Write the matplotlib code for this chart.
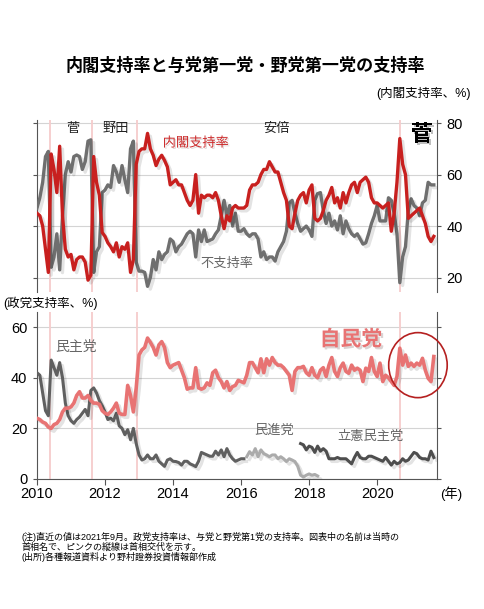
import numpy as np
import matplotlib
matplotlib.use("Agg")
import matplotlib.pyplot as plt
import matplotlib.patheffects as pe
from matplotlib.patches import Ellipse

plt.rcParams['font.family'] = ['Liberation Sans', 'Noto Sans CJK JP']

# 月次データ (2010年1月〜2021年9月)
approval = [
    45, 44, 40, 31, 22, 68, 62, 53, 71, 44, 31, 28,
    29, 23, 27, 28, 28, 26, 19, 21, 67, 57, 52, 37.5,
    36, 33.5, 32, 30, 33.5, 28, 32, 31, 33.5, 22, 27, 64,
    69, 70, 70, 76, 70, 67.5, 63.5, 66, 67.5, 65.5, 63, 56,
    57, 58, 56, 56, 53, 50, 48, 50, 60, 45, 52, 51,
    52, 52, 51, 53, 50, 44, 39, 44, 42, 47, 48, 47,
    47, 47, 48, 54, 56, 56, 57, 60, 62, 62, 65, 63,
    61, 61, 57, 53, 50, 40, 39, 45, 50, 52, 53, 49,
    54, 56, 43, 42, 43, 46, 50, 52, 55, 49, 51, 47,
    53, 49, 53, 56, 57, 53, 57, 58, 59, 57, 51, 49,
    49, 48, 47, 48, 49, 38, 45, 57, 74, 64, 60, 43,
    44, 45, 46, 47, 44, 41, 36, 34, 36,
]
disapproval = [
    47, 51, 57, 67, 69, 24, 28, 37, 23, 44, 60, 65,
    61, 67, 67.6, 67, 62, 65, 73, 73.5, 22, 30, 32, 53,
    54, 56, 55, 63.5, 61, 57, 63.5, 58, 53, 70, 73, 26,
    22.5, 22.5, 22, 16.6, 20, 27, 23, 30, 27, 29, 30, 35,
    34, 30, 32, 33, 35, 37, 38, 37, 28, 38.5, 34, 38.5,
    34, 34.5, 35, 37, 38.5, 44, 50, 44, 48, 40, 45, 38,
    38, 39, 37, 36, 37, 37, 35, 28, 30, 27, 28, 28,
    26.4, 30, 32, 34, 38, 49, 50, 45, 41, 38, 39, 40,
    38.5, 36, 50, 52.6, 53, 46, 41, 45, 40, 42, 38.5, 44,
    37, 42, 39, 37, 36, 37, 35, 33, 33.5, 37, 41, 44,
    48, 42, 42, 42, 51, 50, 45, 37, 18, 28, 32, 46,
    50.6, 48, 47, 44, 49, 50, 57, 56, 56,
]
ldp = [
    24, 23.5, 22.5, 22, 20.5, 20, 21.5, 22, 23.5, 26.5, 28, 28,
    28.5, 30, 33, 34.5, 32, 32, 33, 31, 30, 30, 29.5, 27,
    26, 25.5, 26.5, 28, 30, 26, 25.5, 25.5, 37, 33, 26.5, 36,
    49, 51, 52, 55.7, 54, 52, 49, 53, 54.3, 52, 46, 44,
    45, 45.5, 46, 43, 40, 35.5, 36, 36, 44, 36, 35.5, 36,
    38, 37, 42, 43, 40, 38.5, 36, 38.5, 35, 36.5, 37, 39,
    38.5, 38, 41, 46, 46, 44, 42, 47.5, 42, 47.5, 45, 48,
    46, 45, 45, 44, 42.5, 41, 35, 42.5, 44, 44, 44.5, 42,
    41, 44, 41, 40, 43, 44, 40.5, 45, 48, 42.5, 40.5, 44,
    45.8, 42.5, 41.8, 45, 43, 43.8, 43, 38.5, 43.8, 42.5, 48, 42.5,
    40.5, 45.8, 38.5, 41, 40, 38.5, 37, 40.5, 51.7, 45, 49, 44.5,
    45.8, 44.5, 45.8, 45, 47.7, 43, 39.8, 38.5, 48.4,
]
# 民主党 2010年1月〜2016年2月
dpj = [
    42, 41, 34, 27, 25, 47, 44, 41, 46, 40, 30, 25,
    23, 22, 23.5, 24.5, 26, 27.5, 25, 35, 36, 34, 31, 29,
    26.5, 23.5, 24, 23, 26, 21, 20, 17.5, 19.5, 15.5, 20, 14,
    9.5, 7.5, 8, 9.5, 8, 8, 9.5, 7, 6, 5, 7.5, 8,
    7, 6.9, 6.5, 5.5, 7, 7, 6, 5.5, 4.9, 7, 10.5, 10,
    9.5, 9, 9, 11, 9.5, 11.5, 8.8, 12, 9.5, 8, 7, 7.5,
    8, 8,
]
# 民進党 2016年3月〜2018年4月
minshin = [
    8.8, 10.8, 9.5, 12, 8.8, 11.5, 10, 9.5, 8.8, 9.5,
    9.5, 8, 8.8, 8, 6.9, 8, 7.5, 6.9, 5, 1.5,
    0.8, 1.5, 2, 1.5, 1.8, 1.2,
]
# 立憲民主党 2017年10月〜2021年9月
cdp = [
    14, 13.5, 11.5, 13, 12.5, 10.5, 13, 11, 12, 11, 8, 8,
    8, 8.5, 8, 8, 8, 7, 6, 8.5, 10.5, 8.5, 8, 8,
    9, 9, 8.5, 8, 7.5, 7, 8.5, 7, 5.5, 7, 6, 6.5,
    8, 7, 7.5, 9, 10.5, 10, 8.5, 8, 8, 7.5, 11, 8.5,
]

pm_changes = [2010 + 4.6 / 12, 2011 + 7.5 / 12, 2012 + 11.3 / 12, 2020 + 8.2 / 12]

notes = [
    '(注)直近の値は2021年9月。政党支持率は、与党と野党第1党の支持率。図表中の名前は当時の',
    '首相名で、ピンクの縦線は首相交代を示す。',
    '(出所)各種報道資料より野村證券投資情報部作成',
]


def years(start_year, start_month, values):
    return start_year + (start_month - 1) / 12 + np.arange(len(values)) / 12


def shadow():
    return [pe.SimpleLineShadow(offset=(2, -2), shadow_color='black', alpha=0.11),
            pe.Normal()]


W, H = 485, 609
fig = plt.figure(figsize=(W / 100, H / 100), dpi=100)
fig.patch.set_facecolor('white')

ax1 = fig.add_axes([37 / W, 1 - 292 / H, 400 / W, 172 / H])
ax2 = fig.add_axes([37 / W, 1 - 479 / H, 400 / W, 167 / H])

pink = '#f6cccc'
spine_c = '#555555'
grid_c = '#d4d4d4'

# 上段: 内閣支持率
for x in pm_changes:
    ax1.axvline(x, color=pink, lw=1.3, zorder=1)
ax1.plot(years(2010, 1, disapproval), disapproval, color='#6f6f6f', lw=2.4,
         path_effects=shadow(), zorder=3, solid_joinstyle='round')
ax1.plot(years(2010, 1, approval), approval, color='#c8201f', lw=2.4,
         path_effects=shadow(), zorder=4, solid_joinstyle='round')
ax1.set_xlim(2010, 2021.76)
ax1.set_ylim(14.4, 81.2)
ax1.set_yticks([20, 40, 60, 80])
ax1.set_xticks([])
ax1.grid(axis='y', color=grid_c, lw=0.8, zorder=0)
ax1.set_axisbelow(True)
ax1.tick_params(axis='y', left=True, right=True, labelleft=False, labelright=True,
                length=3, color=spine_c, labelsize=10.5, pad=4)
for s in ['top', 'bottom']:
    ax1.spines[s].set_visible(False)
for s in ['left', 'right']:
    ax1.spines[s].set_color(spine_c)

ax1.text(2011.06, 77.7, '菅', ha='center', va='center', fontsize=9.5, color='#222222')
ax1.text(2012.32, 77.7, '野田', ha='center', va='center', fontsize=9.5, color='#222222')
ax1.text(2017.03, 77.6, '安倍', ha='center', va='center', fontsize=9.5, color='#222222')
ax1.text(2021.31, 75.3, '菅', ha='center', va='center', fontsize=16, fontweight='bold',
         color='black',
         path_effects=[pe.withSimplePatchShadow(offset=(1.5, -1.5), alpha=0.25)])
ax1.text(2014.67, 72.1, '内閣支持率', ha='center', va='center', fontsize=9.5,
         color='#cc2a2a',
         path_effects=[pe.withSimplePatchShadow(offset=(1, -1), alpha=0.15)])
ax1.text(2015.58, 25.3, '不支持率', ha='center', va='center', fontsize=9.5,
         color='#666666')

# 下段: 政党支持率
for x in pm_changes:
    ax2.axvline(x, color=pink, lw=1.3, zorder=1)
ax2.plot(years(2010, 1, dpj), dpj, color='#606060', lw=2.2,
         path_effects=shadow(), zorder=3, solid_joinstyle='round')
ax2.plot(years(2016, 3, minshin), minshin, color='#ababab', lw=2.2,
         path_effects=shadow(), zorder=3, solid_joinstyle='round')
ax2.plot(years(2017, 10, cdp), cdp, color='#4e4e4e', lw=2.2,
         path_effects=shadow(), zorder=3, solid_joinstyle='round')
ax2.plot(years(2010, 1, ldp), ldp, color='#e87373', lw=2.6,
         path_effects=shadow(), zorder=4, solid_joinstyle='round')
ax2.set_xlim(2010, 2021.76)
ax2.set_ylim(0, 66)
ax2.set_yticks([0, 20, 40, 60])
ax2.set_xticks([2010, 2012, 2014, 2016, 2018, 2020])
ax2.grid(axis='y', color=grid_c, lw=0.8, zorder=0)
ax2.set_axisbelow(True)
ax2.tick_params(axis='y', left=True, right=True, labelleft=True, labelright=False,
                length=3, color=spine_c, labelsize=10.5, pad=4)
ax2.tick_params(axis='x', length=4, color=spine_c, labelsize=10.5, pad=2)
ax2.spines['top'].set_visible(False)
for s in ['left', 'right', 'bottom']:
    ax2.spines[s].set_color(spine_c)

ax2.text(2011.15, 52.2, '民主党', ha='center', va='center', fontsize=10, color='#666666')
ax2.text(2019.23, 55.1, '自民党', ha='center', va='center', fontsize=15, fontweight='bold',
         color='#e87373',
         path_effects=[pe.withSimplePatchShadow(offset=(1.5, -1.5), alpha=0.2)])
ax2.text(2016.97, 19.1, '民進党', ha='center', va='center', fontsize=9.5, color='#666666')
ax2.text(2019.79, 16.7, '立憲民主党', ha='center', va='center', fontsize=9.5, color='#666666')
ax2.add_patch(Ellipse((2021.2, 45), 1.72, 25.7, fill=False, edgecolor='#b52020',
                      lw=1.2, clip_on=False, zorder=5))


def ftext(x, y, s, **kw):
    fig.text(x / W, 1 - y / H, s, **kw)


ftext(245, 65.5, '内閣支持率と与党第一党・野党第一党の支持率', ha='center', va='center',
      fontsize=12.3, fontweight='bold')
ftext(471, 93, '(内閣支持率、%)', ha='right', va='center', fontsize=9)
ftext(3, 303, '(政党支持率、%)', ha='left', va='center', fontsize=9)
ftext(451, 494, '(年)', ha='center', va='center', fontsize=9.5)
for k, line in enumerate(notes):
    ftext(22, 540 + 10 * k, line, ha='left', va='baseline', fontsize=6.5)

fig.savefig('out.png', dpi=100)
